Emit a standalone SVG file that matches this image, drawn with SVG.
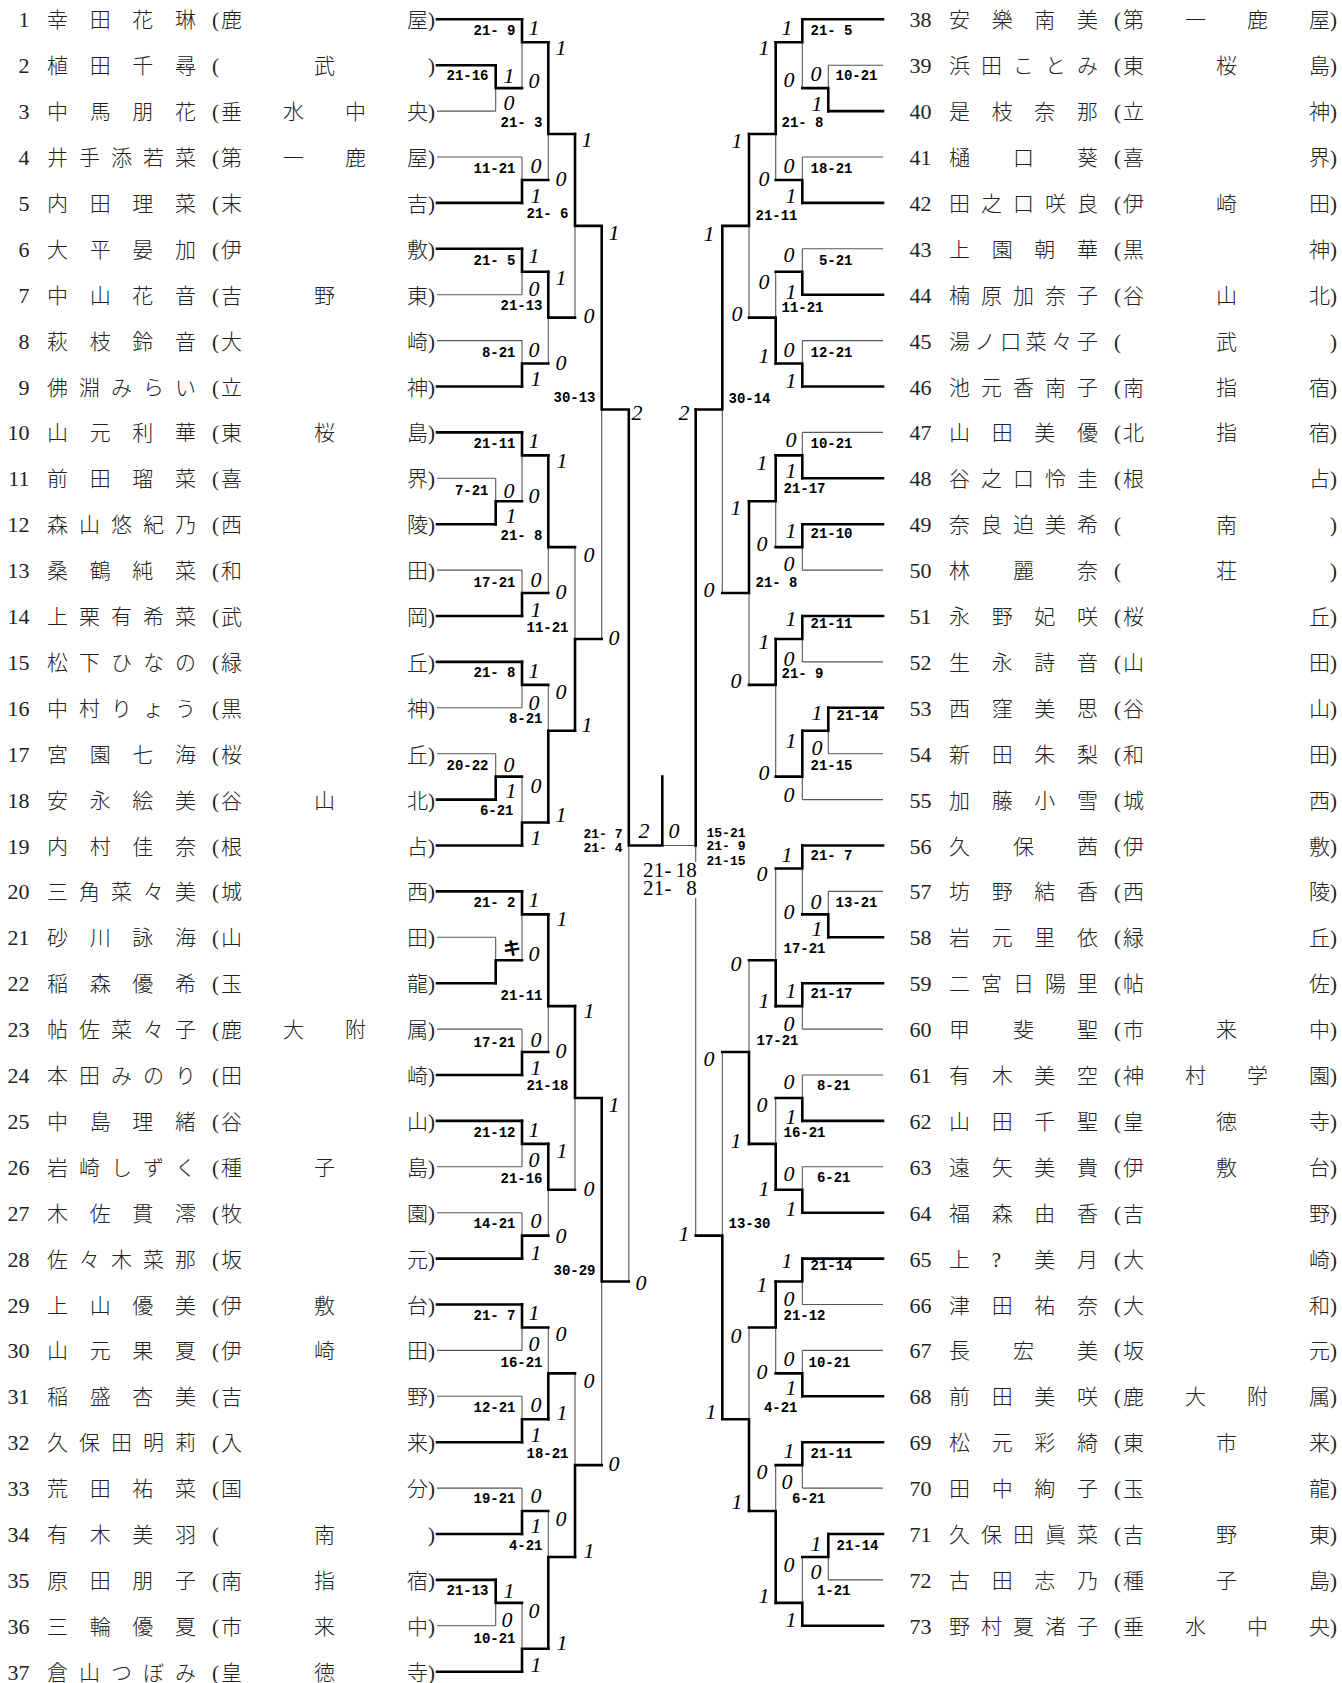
<svg xmlns="http://www.w3.org/2000/svg" width="1342" height="1683" viewBox="0 0 1342 1683">
<style>
.b{fill:none;stroke:#000;stroke-width:2.6;stroke-linecap:square}
.t{fill:none;stroke:#555;stroke-width:1.1}
.num{font-family:"Liberation Serif",serif;font-size:22px;text-anchor:end;fill:#222}
.n{font-family:"Liberation Serif","Noto Sans CJK JP","Noto Sans CJK SC",serif;font-size:21px;font-weight:300;fill:#222}
.r{font-family:"Liberation Serif",serif;font-style:italic;font-size:22px;fill:#000}
.s{font-family:"Liberation Mono",monospace;font-weight:bold;font-size:14px;text-anchor:end;fill:#000}
.sc{font-family:"Liberation Mono",monospace;font-weight:bold;font-size:13px;text-anchor:end;fill:#000}
.f{font-family:"Liberation Serif",serif;font-size:21px;fill:#000}
.k{font-family:"Noto Sans CJK JP",sans-serif;font-size:18px;font-weight:bold;fill:#000}
</style>
<rect width="1342" height="1683" fill="#fff"/>
<g id="connectors">
<path class="t" d="M437 111.1H495.7M437 157H522M437 294.7H522M437 340.6H522M437 478.3H495.7M437 570.1H522M437 707.8H522M437 753.7H495.7M437 937.3H495.7M437 1029.1H522M437 1166.8H522M437 1212.7H522M437 1350.4H522M437 1396.3H522M437 1488.1H522M437 1625.8H495.7"/>
<path class="t" d="M495.7 111.1V88.15M495.7 478.3V501.25M495.7 753.7V776.65M495.7 937.3V960.25M495.7 1625.8V1602.85"/>
<path class="t" d="M522 88.15V42.25M522 157V179.95M522 294.7V271.75M522 340.6V363.55M522 501.25V455.35M522 570.1V593.05M522 707.8V684.85M522 776.65V822.55M522 960.25V914.35M522 1029.1V1052.05M522 1166.8V1143.85M522 1212.7V1235.65M522 1350.4V1327.45M522 1396.3V1419.25M522 1488.1V1511.05M522 1602.85V1648.75"/>
<path class="t" d="M548.3 179.95V134.05M548.3 363.55V317.65M548.3 593.05V547.15M548.3 684.85V730.75M548.3 1052.05V1006.15M548.3 1235.65V1189.75M548.3 1327.45V1373.35M548.3 1511.05V1556.95"/>
<path class="t" d="M575 317.65V225.85M575 547.15V638.95M575 1189.75V1097.95M575 1373.35V1465.15M601.7 638.95V409.45M601.7 1465.15V1281.55M628.8 1281.55V845.5M662.3 845.5H695.7M695.7 1235.65V845.5"/>
<path class="t" d="M722.3 593.05V409.45M722.3 1052.05V1235.65M749 317.65V225.85M749 684.85V593.05M749 960.25V1052.05M749 1327.45V1419.25"/>
<path class="t" d="M775.7 179.95V134.05M775.7 271.75V317.65M775.7 547.15V501.25M775.7 776.65V684.85M775.7 868.45V960.25M775.7 1097.95V1143.85M775.7 1373.35V1327.45M775.7 1465.15V1511.05"/>
<path class="t" d="M802.3 88.15V42.25M802.3 157V179.95M802.3 248.8V271.75M802.3 340.6V363.55M802.3 432.4V455.35M802.3 570.1V547.15M802.3 661.9V638.95M802.3 799.6V776.65M802.3 914.35V868.45M802.3 1029.1V1006.15M802.3 1075V1097.95M802.3 1166.8V1189.75M802.3 1304.5V1281.55M802.3 1350.4V1373.35M802.3 1488.1V1465.15M802.3 1556.95V1602.85"/>
<path class="t" d="M828.3 65.2V88.15M828.3 753.7V730.75M828.3 891.4V914.35M828.3 1579.9V1556.95"/>
<path class="t" d="M828.3 65.2H883M802.3 157H883M802.3 248.8H883M802.3 340.6H883M802.3 432.4H883M802.3 570.1H883M802.3 661.9H883M828.3 753.7H883M802.3 799.6H883M828.3 891.4H883M802.3 1029.1H883M802.3 1075H883M802.3 1166.8H883M802.3 1304.5H883M802.3 1350.4H883M802.3 1488.1H883M828.3 1579.9H883"/>
<path class="b" d="M437 19.3H522M437 65.2H495.7M437 202.9H522M437 248.8H522M437 386.5H522M437 432.4H522M437 524.2H495.7M437 616H522M437 661.9H522M437 799.6H495.7M437 845.5H522M437 891.4H522M437 983.2H495.7M437 1075H522M437 1120.9H522M437 1258.6H522M437 1304.5H522M437 1442.2H522M437 1534H522M437 1579.9H495.7M437 1671.7H522"/>
<path class="b" d="M495.7 65.2V88.15H522M495.7 524.2V501.25H522M495.7 799.6V776.65H522M495.7 983.2V960.25H522M495.7 1579.9V1602.85H522"/>
<path class="b" d="M522 19.3V42.25H548.3M522 202.9V179.95H548.3M522 248.8V271.75H548.3M522 386.5V363.55H548.3M522 432.4V455.35H548.3M522 616V593.05H548.3M522 661.9V684.85H548.3M522 845.5V822.55H548.3M522 891.4V914.35H548.3M522 1075V1052.05H548.3M522 1120.9V1143.85H548.3M522 1258.6V1235.65H548.3M522 1304.5V1327.45H548.3M522 1442.2V1419.25H548.3M522 1534V1511.05H548.3M522 1671.7V1648.75H548.3"/>
<path class="b" d="M548.3 42.25V134.05H575M548.3 271.75V317.65H575M548.3 455.35V547.15H575M548.3 822.55V730.75H575M548.3 914.35V1006.15H575M548.3 1143.85V1189.75H575M548.3 1419.25V1373.35H575M548.3 1648.75V1556.95H575"/>
<path class="b" d="M575 134.05V225.85H601.7M575 730.75V638.95H601.7M575 1006.15V1097.95H601.7M575 1556.95V1465.15H601.7M601.7 225.85V409.45H628.8M601.7 1097.95V1281.55H628.8M628.8 409.45V845.5H662.3M662.3 845.5V776.65M695.7 409.45V845.5"/>
<path class="b" d="M722.3 225.85V409.45H695.7M722.3 1419.25V1235.65H695.7M749 134.05V225.85H722.3M749 501.25V593.05H722.3M749 1143.85V1052.05H722.3M749 1511.05V1419.25H722.3"/>
<path class="b" d="M775.7 42.25V134.05H749M775.7 363.55V317.65H749M775.7 455.35V501.25H749M775.7 638.95V684.85H749M775.7 1006.15V960.25H749M775.7 1189.75V1143.85H749M775.7 1281.55V1327.45H749M775.7 1602.85V1511.05H749"/>
<path class="b" d="M802.3 19.3V42.25H775.7M802.3 202.9V179.95H775.7M802.3 294.7V271.75H775.7M802.3 386.5V363.55H775.7M802.3 478.3V455.35H775.7M802.3 524.2V547.15H775.7M802.3 616V638.95H775.7M802.3 730.75V776.65H775.7M802.3 845.5V868.45H775.7M802.3 983.2V1006.15H775.7M802.3 1120.9V1097.95H775.7M802.3 1212.7V1189.75H775.7M802.3 1258.6V1281.55H775.7M802.3 1396.3V1373.35H775.7M802.3 1442.2V1465.15H775.7M802.3 1625.8V1602.85H775.7"/>
<path class="b" d="M828.3 111.1V88.15H802.3M828.3 707.8V730.75H802.3M828.3 937.3V914.35H802.3M828.3 1534V1556.95H802.3"/>
<path class="b" d="M802.3 19.3H883M828.3 111.1H883M802.3 202.9H883M802.3 294.7H883M802.3 386.5H883M802.3 478.3H883M802.3 524.2H883M802.3 616H883M828.3 707.8H883M802.3 845.5H883M828.3 937.3H883M802.3 983.2H883M802.3 1120.9H883M802.3 1212.7H883M802.3 1258.6H883M802.3 1396.3H883M802.3 1442.2H883M828.3 1534H883M802.3 1625.8H883"/>
</g>
<g id="scores">
<text class="s" x="515.5" y="35">21- 9</text>
<text class="s" x="488.5" y="80">21-16</text>
<text class="s" x="542.5" y="127">21- 3</text>
<text class="s" x="515.5" y="173">11-21</text>
<text class="s" x="568.5" y="218">21- 6</text>
<text class="s" x="515.5" y="265">21- 5</text>
<text class="s" x="542.5" y="310">21-13</text>
<text class="s" x="515.5" y="357">8-21</text>
<text class="s" x="595.5" y="402">30-13</text>
<text class="s" x="515.5" y="448">21-11</text>
<text class="s" x="488.5" y="495">7-21</text>
<text class="s" x="542.5" y="540">21- 8</text>
<text class="s" x="515.5" y="587">17-21</text>
<text class="s" x="568.5" y="632">11-21</text>
<text class="s" x="515.5" y="677">21- 8</text>
<text class="s" x="542.5" y="723">8-21</text>
<text class="s" x="488.5" y="770">20-22</text>
<text class="s" x="513.5" y="815">6-21</text>
<text class="sc" x="622.5" y="838">21- 7</text>
<text class="sc" x="622.5" y="852">21- 4</text>
<text class="s" x="515.5" y="907">21- 2</text>
<text class="s" x="542.5" y="1000">21-11</text>
<text class="s" x="515.5" y="1047">17-21</text>
<text class="s" x="568.5" y="1090">21-18</text>
<text class="s" x="515.5" y="1137">21-12</text>
<text class="s" x="542.5" y="1183">21-16</text>
<text class="s" x="515.5" y="1228">14-21</text>
<text class="s" x="595.5" y="1275">30-29</text>
<text class="s" x="515.5" y="1320">21- 7</text>
<text class="s" x="542.5" y="1367">16-21</text>
<text class="s" x="515.5" y="1412">12-21</text>
<text class="s" x="568.5" y="1458">18-21</text>
<text class="s" x="515.5" y="1503">19-21</text>
<text class="s" x="542.5" y="1550">4-21</text>
<text class="s" x="488.5" y="1595">21-13</text>
<text class="s" x="515.5" y="1643">10-21</text>
<text class="s" x="852.5" y="35">21- 5</text>
<text class="s" x="877.5" y="80">10-21</text>
<text class="s" x="823.5" y="127">21- 8</text>
<text class="s" x="852.5" y="173">18-21</text>
<text class="s" x="797.5" y="220">21-11</text>
<text class="s" x="852.5" y="265">5-21</text>
<text class="s" x="823.5" y="312">11-21</text>
<text class="s" x="852.5" y="357">12-21</text>
<text class="s" x="770.5" y="403">30-14</text>
<text class="s" x="852.5" y="448">10-21</text>
<text class="s" x="825.5" y="493">21-17</text>
<text class="s" x="852.5" y="538">21-10</text>
<text class="s" x="797.5" y="587">21- 8</text>
<text class="s" x="852.5" y="628">21-11</text>
<text class="s" x="823.5" y="678">21- 9</text>
<text class="s" x="878.5" y="720">21-14</text>
<text class="s" x="852.5" y="770">21-15</text>
<text class="sc" x="745.5" y="837">15-21</text>
<text class="sc" x="745.5" y="850">21- 9</text>
<text class="sc" x="745.5" y="865">21-15</text>
<text class="s" x="852.5" y="860">21- 7</text>
<text class="s" x="877.5" y="907">13-21</text>
<text class="s" x="825.5" y="953">17-21</text>
<text class="s" x="852.5" y="998">21-17</text>
<text class="s" x="798.5" y="1045">17-21</text>
<text class="s" x="850.5" y="1090">8-21</text>
<text class="s" x="825.5" y="1137">16-21</text>
<text class="s" x="850.5" y="1182">6-21</text>
<text class="s" x="770.5" y="1228">13-30</text>
<text class="s" x="852.5" y="1270">21-14</text>
<text class="s" x="825.5" y="1320">21-12</text>
<text class="s" x="850.5" y="1367">10-21</text>
<text class="s" x="797.5" y="1412">4-21</text>
<text class="s" x="852.5" y="1458">21-11</text>
<text class="s" x="825.5" y="1503">6-21</text>
<text class="s" x="878.5" y="1550">21-14</text>
<text class="s" x="850.5" y="1595">1-21</text>
<rect x="641" y="862" width="58" height="36" fill="#fff"/>
<text class="f" x="643 653.8 664.6 675.4 686.2" y="877">21-18</text>
<text class="f" x="643 653.8 664.6 675.4 686.2" y="895">21- 8</text>
</g>
<g id="results">
<text class="r" x="503.5" y="83">1</text><text class="r" x="503.5" y="110">0</text>
<text class="r" x="528.5" y="35">1</text><text class="r" x="528.5" y="88">0</text>
<text class="r" x="555.5" y="55">1</text><text class="r" x="555.5" y="186">0</text>
<text class="r" x="530.5" y="173">0</text><text class="r" x="530.5" y="203">1</text>
<text class="r" x="581.5" y="147">1</text><text class="r" x="583.5" y="323">0</text>
<text class="r" x="528.5" y="263">1</text><text class="r" x="528.5" y="296">0</text>
<text class="r" x="555.5" y="285">1</text><text class="r" x="555.5" y="370">0</text>
<text class="r" x="528.5" y="357">0</text><text class="r" x="530.5" y="386">1</text>
<text class="r" x="608.5" y="240">1</text><text class="r" x="608.5" y="645">0</text>
<text class="r" x="631.5" y="420">2</text><text class="r" x="635.5" y="1290">0</text>
<text class="r" x="528.5" y="448">1</text><text class="r" x="528.5" y="503">0</text>
<text class="r" x="556.5" y="468">1</text><text class="r" x="555.5" y="599">0</text>
<text class="r" x="503.5" y="498">0</text><text class="r" x="505.5" y="523">1</text>
<text class="r" x="583.5" y="562">0</text><text class="r" x="581.5" y="732">1</text>
<text class="r" x="530.5" y="587">0</text><text class="r" x="530.5" y="617">1</text>
<text class="r" x="528.5" y="678">1</text><text class="r" x="528.5" y="710">0</text>
<text class="r" x="555.5" y="699">0</text><text class="r" x="555.5" y="822">1</text>
<text class="r" x="503.5" y="772">0</text><text class="r" x="505.5" y="798">1</text>
<text class="r" x="530.5" y="793">0</text><text class="r" x="530.5" y="845">1</text>
<text class="k" x="503" y="955">キ</text>
<text class="r" x="528.5" y="907">1</text><text class="r" x="528.5" y="961">0</text>
<text class="r" x="556.5" y="926">1</text><text class="r" x="555.5" y="1058">0</text>
<text class="r" x="583.5" y="1018">1</text><text class="r" x="583.5" y="1196">0</text>
<text class="r" x="530.5" y="1047">0</text><text class="r" x="530.5" y="1075">1</text>
<text class="r" x="608.5" y="1112">1</text><text class="r" x="608.5" y="1471">0</text>
<text class="r" x="528.5" y="1137">1</text><text class="r" x="528.5" y="1167">0</text>
<text class="r" x="556.5" y="1158">1</text><text class="r" x="555.5" y="1243">0</text>
<text class="r" x="530.5" y="1228">0</text><text class="r" x="530.5" y="1260">1</text>
<text class="r" x="528.5" y="1320">1</text><text class="r" x="528.5" y="1351">0</text>
<text class="r" x="555.5" y="1341">0</text><text class="r" x="556.5" y="1420">1</text>
<text class="r" x="583.5" y="1388">0</text><text class="r" x="583.5" y="1558">1</text>
<text class="r" x="530.5" y="1412">0</text><text class="r" x="530.5" y="1442">1</text>
<text class="r" x="530.5" y="1503">0</text><text class="r" x="530.5" y="1533">1</text>
<text class="r" x="555.5" y="1526">0</text><text class="r" x="556.5" y="1650">1</text>
<text class="r" x="503.5" y="1598">1</text><text class="r" x="501.5" y="1627">0</text>
<text class="r" x="528.5" y="1618">0</text><text class="r" x="530.5" y="1672">1</text>
<text class="r" x="638.5" y="838">2</text><text class="r" x="668.5" y="838">0</text>
<text class="r" x="781.5" y="35">1</text><text class="r" x="783.5" y="87">0</text>
<text class="r" x="758.5" y="55">1</text><text class="r" x="758.5" y="186">0</text>
<text class="r" x="810.5" y="81">0</text><text class="r" x="811.5" y="111">1</text>
<text class="r" x="731.5" y="148">1</text><text class="r" x="731.5" y="321">0</text>
<text class="r" x="783.5" y="173">0</text><text class="r" x="785.5" y="203">1</text>
<text class="r" x="703.5" y="241">1</text><text class="r" x="703.5" y="597">0</text>
<text class="r" x="783.5" y="262">0</text><text class="r" x="785.5" y="299">1</text>
<text class="r" x="758.5" y="289">0</text><text class="r" x="758.5" y="363">1</text>
<text class="r" x="783.5" y="357">0</text><text class="r" x="785.5" y="388">1</text>
<text class="r" x="678.5" y="420">2</text><text class="r" x="678.5" y="1241">1</text>
<text class="r" x="785.5" y="447">0</text><text class="r" x="785.5" y="478">1</text>
<text class="r" x="756.5" y="470">1</text><text class="r" x="756.5" y="551">0</text>
<text class="r" x="730.5" y="515">1</text><text class="r" x="730.5" y="688">0</text>
<text class="r" x="785.5" y="538">1</text><text class="r" x="783.5" y="571">0</text>
<text class="r" x="785.5" y="626">1</text><text class="r" x="783.5" y="666">0</text>
<text class="r" x="758.5" y="649">1</text><text class="r" x="758.5" y="780">0</text>
<text class="r" x="811.5" y="720">1</text><text class="r" x="811.5" y="755">0</text>
<text class="r" x="785.5" y="748">1</text><text class="r" x="783.5" y="802">0</text>
<text class="r" x="781.5" y="862">1</text><text class="r" x="783.5" y="919">0</text>
<text class="r" x="810.5" y="909">0</text><text class="r" x="811.5" y="936">1</text>
<text class="r" x="756.5" y="881">0</text><text class="r" x="758.5" y="1008">1</text>
<text class="r" x="730.5" y="971">0</text><text class="r" x="730.5" y="1148">1</text>
<text class="r" x="785.5" y="998">1</text><text class="r" x="783.5" y="1031">0</text>
<text class="r" x="703.5" y="1066">0</text><text class="r" x="705.5" y="1419">1</text>
<text class="r" x="783.5" y="1089">0</text><text class="r" x="785.5" y="1124">1</text>
<text class="r" x="756.5" y="1112">0</text><text class="r" x="758.5" y="1196">1</text>
<text class="r" x="783.5" y="1181">0</text><text class="r" x="785.5" y="1216">1</text>
<text class="r" x="781.5" y="1268">1</text><text class="r" x="783.5" y="1306">0</text>
<text class="r" x="756.5" y="1292">1</text><text class="r" x="756.5" y="1379">0</text>
<text class="r" x="730.5" y="1343">0</text><text class="r" x="731.5" y="1509">1</text>
<text class="r" x="783.5" y="1366">0</text><text class="r" x="785.5" y="1395">1</text>
<text class="r" x="783.5" y="1458">1</text><text class="r" x="781.5" y="1489">0</text>
<text class="r" x="756.5" y="1479">0</text><text class="r" x="758.5" y="1603">1</text>
<text class="r" x="810.5" y="1551">1</text><text class="r" x="810.5" y="1579">0</text>
<text class="r" x="783.5" y="1572">0</text><text class="r" x="785.5" y="1627">1</text>
</g>
<g id="p1"><text class="num" x="29.5" y="27.3">1</text><text class="n" x="47 89.7 132.3 175 212 221 407 428" y="27.3">幸田花琳(鹿屋)</text></g>
<g id="p2"><text class="num" x="29.5" y="73.2">2</text><text class="n" x="47 89.7 132.3 175 212 314 428" y="73.2">植田千尋(武)</text></g>
<g id="p3"><text class="num" x="29.5" y="119.1">3</text><text class="n" x="47 89.7 132.3 175 212 221 283 345 407 428" y="119.1">中馬朋花(垂水中央)</text></g>
<g id="p4"><text class="num" x="29.5" y="165">4</text><text class="n" x="47 79 111 143 175 212 221 283 345 407 428" y="165">井手添若菜(第一鹿屋)</text></g>
<g id="p5"><text class="num" x="29.5" y="210.9">5</text><text class="n" x="47 89.7 132.3 175 212 221 407 428" y="210.9">内田理菜(末吉)</text></g>
<g id="p6"><text class="num" x="29.5" y="256.8">6</text><text class="n" x="47 89.7 132.3 175 212 221 407 428" y="256.8">大平晏加(伊敷)</text></g>
<g id="p7"><text class="num" x="29.5" y="302.7">7</text><text class="n" x="47 89.7 132.3 175 212 221 314 407 428" y="302.7">中山花音(吉野東)</text></g>
<g id="p8"><text class="num" x="29.5" y="348.6">8</text><text class="n" x="47 89.7 132.3 175 212 221 407 428" y="348.6">萩枝鈴音(大崎)</text></g>
<g id="p9"><text class="num" x="29.5" y="394.5">9</text><text class="n" x="47 79 111 143 175 212 221 407 428" y="394.5">佛淵みらい(立神)</text></g>
<g id="p10"><text class="num" x="29.5" y="440.4">10</text><text class="n" x="47 89.7 132.3 175 212 221 314 407 428" y="440.4">山元利華(東桜島)</text></g>
<g id="p11"><text class="num" x="29.5" y="486.3">11</text><text class="n" x="47 89.7 132.3 175 212 221 407 428" y="486.3">前田瑠菜(喜界)</text></g>
<g id="p12"><text class="num" x="29.5" y="532.2">12</text><text class="n" x="47 79 111 143 175 212 221 407 428" y="532.2">森山悠紀乃(西陵)</text></g>
<g id="p13"><text class="num" x="29.5" y="578.1">13</text><text class="n" x="47 89.7 132.3 175 212 221 407 428" y="578.1">桑鶴純菜(和田)</text></g>
<g id="p14"><text class="num" x="29.5" y="624">14</text><text class="n" x="47 79 111 143 175 212 221 407 428" y="624">上栗有希菜(武岡)</text></g>
<g id="p15"><text class="num" x="29.5" y="669.9">15</text><text class="n" x="47 79 111 143 175 212 221 407 428" y="669.9">松下ひなの(緑丘)</text></g>
<g id="p16"><text class="num" x="29.5" y="715.8">16</text><text class="n" x="47 79 111 143 175 212 221 407 428" y="715.8">中村りょう(黒神)</text></g>
<g id="p17"><text class="num" x="29.5" y="761.7">17</text><text class="n" x="47 89.7 132.3 175 212 221 407 428" y="761.7">宮園七海(桜丘)</text></g>
<g id="p18"><text class="num" x="29.5" y="807.6">18</text><text class="n" x="47 89.7 132.3 175 212 221 314 407 428" y="807.6">安永絵美(谷山北)</text></g>
<g id="p19"><text class="num" x="29.5" y="853.5">19</text><text class="n" x="47 89.7 132.3 175 212 221 407 428" y="853.5">内村佳奈(根占)</text></g>
<g id="p20"><text class="num" x="29.5" y="899.4">20</text><text class="n" x="47 79 111 143 175 212 221 407 428" y="899.4">三角菜々美(城西)</text></g>
<g id="p21"><text class="num" x="29.5" y="945.3">21</text><text class="n" x="47 89.7 132.3 175 212 221 407 428" y="945.3">砂川詠海(山田)</text></g>
<g id="p22"><text class="num" x="29.5" y="991.2">22</text><text class="n" x="47 89.7 132.3 175 212 221 407 428" y="991.2">稲森優希(玉龍)</text></g>
<g id="p23"><text class="num" x="29.5" y="1037.1">23</text><text class="n" x="47 79 111 143 175 212 221 283 345 407 428" y="1037.1">帖佐菜々子(鹿大附属)</text></g>
<g id="p24"><text class="num" x="29.5" y="1083">24</text><text class="n" x="47 79 111 143 175 212 221 407 428" y="1083">本田みのり(田崎)</text></g>
<g id="p25"><text class="num" x="29.5" y="1128.9">25</text><text class="n" x="47 89.7 132.3 175 212 221 407 428" y="1128.9">中島理緒(谷山)</text></g>
<g id="p26"><text class="num" x="29.5" y="1174.8">26</text><text class="n" x="47 79 111 143 175 212 221 314 407 428" y="1174.8">岩崎しずく(種子島)</text></g>
<g id="p27"><text class="num" x="29.5" y="1220.7">27</text><text class="n" x="47 89.7 132.3 175 212 221 407 428" y="1220.7">木佐貫澪(牧園)</text></g>
<g id="p28"><text class="num" x="29.5" y="1266.6">28</text><text class="n" x="47 79 111 143 175 212 221 407 428" y="1266.6">佐々木菜那(坂元)</text></g>
<g id="p29"><text class="num" x="29.5" y="1312.5">29</text><text class="n" x="47 89.7 132.3 175 212 221 314 407 428" y="1312.5">上山優美(伊敷台)</text></g>
<g id="p30"><text class="num" x="29.5" y="1358.4">30</text><text class="n" x="47 89.7 132.3 175 212 221 314 407 428" y="1358.4">山元果夏(伊崎田)</text></g>
<g id="p31"><text class="num" x="29.5" y="1404.3">31</text><text class="n" x="47 89.7 132.3 175 212 221 407 428" y="1404.3">稲盛杏美(吉野)</text></g>
<g id="p32"><text class="num" x="29.5" y="1450.2">32</text><text class="n" x="47 79 111 143 175 212 221 407 428" y="1450.2">久保田明莉(入来)</text></g>
<g id="p33"><text class="num" x="29.5" y="1496.1">33</text><text class="n" x="47 89.7 132.3 175 212 221 407 428" y="1496.1">荒田祐菜(国分)</text></g>
<g id="p34"><text class="num" x="29.5" y="1542">34</text><text class="n" x="47 89.7 132.3 175 212 314 428" y="1542">有木美羽(南)</text></g>
<g id="p35"><text class="num" x="29.5" y="1587.9">35</text><text class="n" x="47 89.7 132.3 175 212 221 314 407 428" y="1587.9">原田朋子(南指宿)</text></g>
<g id="p36"><text class="num" x="29.5" y="1633.8">36</text><text class="n" x="47 89.7 132.3 175 212 221 314 407 428" y="1633.8">三輪優夏(市来中)</text></g>
<g id="p37"><text class="num" x="29.5" y="1679.7">37</text><text class="n" x="47 79 111 143 175 212 221 314 407 428" y="1679.7">倉山つぼみ(皇徳寺)</text></g>
<g id="p38"><text class="num" x="931.5" y="27.3">38</text><text class="n" x="949 991.7 1034.3 1077 1114 1123 1185 1247 1309 1330" y="27.3">安樂南美(第一鹿屋)</text></g>
<g id="p39"><text class="num" x="931.5" y="73.2">39</text><text class="n" x="949 981 1013 1045 1077 1114 1123 1216 1309 1330" y="73.2">浜田ことみ(東桜島)</text></g>
<g id="p40"><text class="num" x="931.5" y="119.1">40</text><text class="n" x="949 991.7 1034.3 1077 1114 1123 1309 1330" y="119.1">是枝奈那(立神)</text></g>
<g id="p41"><text class="num" x="931.5" y="165">41</text><text class="n" x="949 1013 1077 1114 1123 1309 1330" y="165">樋口葵(喜界)</text></g>
<g id="p42"><text class="num" x="931.5" y="210.9">42</text><text class="n" x="949 981 1013 1045 1077 1114 1123 1216 1309 1330" y="210.9">田之口咲良(伊崎田)</text></g>
<g id="p43"><text class="num" x="931.5" y="256.8">43</text><text class="n" x="949 991.7 1034.3 1077 1114 1123 1309 1330" y="256.8">上園朝華(黒神)</text></g>
<g id="p44"><text class="num" x="931.5" y="302.7">44</text><text class="n" x="949 981 1013 1045 1077 1114 1123 1216 1309 1330" y="302.7">楠原加奈子(谷山北)</text></g>
<g id="p45"><text class="num" x="931.5" y="348.6">45</text><text class="n" x="949 974.6 1000.2 1025.8 1051.4 1077 1114 1216 1330" y="348.6">湯ノ口菜々子(武)</text></g>
<g id="p46"><text class="num" x="931.5" y="394.5">46</text><text class="n" x="949 981 1013 1045 1077 1114 1123 1216 1309 1330" y="394.5">池元香南子(南指宿)</text></g>
<g id="p47"><text class="num" x="931.5" y="440.4">47</text><text class="n" x="949 991.7 1034.3 1077 1114 1123 1216 1309 1330" y="440.4">山田美優(北指宿)</text></g>
<g id="p48"><text class="num" x="931.5" y="486.3">48</text><text class="n" x="949 981 1013 1045 1077 1114 1123 1309 1330" y="486.3">谷之口怜圭(根占)</text></g>
<g id="p49"><text class="num" x="931.5" y="532.2">49</text><text class="n" x="949 981 1013 1045 1077 1114 1216 1330" y="532.2">奈良迫美希(南)</text></g>
<g id="p50"><text class="num" x="931.5" y="578.1">50</text><text class="n" x="949 1013 1077 1114 1216 1330" y="578.1">林麗奈(荘)</text></g>
<g id="p51"><text class="num" x="931.5" y="624">51</text><text class="n" x="949 991.7 1034.3 1077 1114 1123 1309 1330" y="624">永野妃咲(桜丘)</text></g>
<g id="p52"><text class="num" x="931.5" y="669.9">52</text><text class="n" x="949 991.7 1034.3 1077 1114 1123 1309 1330" y="669.9">生永詩音(山田)</text></g>
<g id="p53"><text class="num" x="931.5" y="715.8">53</text><text class="n" x="949 991.7 1034.3 1077 1114 1123 1309 1330" y="715.8">西窪美思(谷山)</text></g>
<g id="p54"><text class="num" x="931.5" y="761.7">54</text><text class="n" x="949 991.7 1034.3 1077 1114 1123 1309 1330" y="761.7">新田朱梨(和田)</text></g>
<g id="p55"><text class="num" x="931.5" y="807.6">55</text><text class="n" x="949 991.7 1034.3 1077 1114 1123 1309 1330" y="807.6">加藤小雪(城西)</text></g>
<g id="p56"><text class="num" x="931.5" y="853.5">56</text><text class="n" x="949 1013 1077 1114 1123 1309 1330" y="853.5">久保茜(伊敷)</text></g>
<g id="p57"><text class="num" x="931.5" y="899.4">57</text><text class="n" x="949 991.7 1034.3 1077 1114 1123 1309 1330" y="899.4">坊野結香(西陵)</text></g>
<g id="p58"><text class="num" x="931.5" y="945.3">58</text><text class="n" x="949 991.7 1034.3 1077 1114 1123 1309 1330" y="945.3">岩元里依(緑丘)</text></g>
<g id="p59"><text class="num" x="931.5" y="991.2">59</text><text class="n" x="949 981 1013 1045 1077 1114 1123 1309 1330" y="991.2">二宮日陽里(帖佐)</text></g>
<g id="p60"><text class="num" x="931.5" y="1037.1">60</text><text class="n" x="949 1013 1077 1114 1123 1216 1309 1330" y="1037.1">甲斐聖(市来中)</text></g>
<g id="p61"><text class="num" x="931.5" y="1083">61</text><text class="n" x="949 991.7 1034.3 1077 1114 1123 1185 1247 1309 1330" y="1083">有木美空(神村学園)</text></g>
<g id="p62"><text class="num" x="931.5" y="1128.9">62</text><text class="n" x="949 991.7 1034.3 1077 1114 1123 1216 1309 1330" y="1128.9">山田千聖(皇徳寺)</text></g>
<g id="p63"><text class="num" x="931.5" y="1174.8">63</text><text class="n" x="949 991.7 1034.3 1077 1114 1123 1216 1309 1330" y="1174.8">遠矢美貴(伊敷台)</text></g>
<g id="p64"><text class="num" x="931.5" y="1220.7">64</text><text class="n" x="949 991.7 1034.3 1077 1114 1123 1309 1330" y="1220.7">福森由香(吉野)</text></g>
<g id="p65"><text class="num" x="931.5" y="1266.6">65</text><text class="n" x="949 991.7 1034.3 1077 1114 1123 1309 1330" y="1266.6">上?美月(大崎)</text></g>
<g id="p66"><text class="num" x="931.5" y="1312.5">66</text><text class="n" x="949 991.7 1034.3 1077 1114 1123 1309 1330" y="1312.5">津田祐奈(大和)</text></g>
<g id="p67"><text class="num" x="931.5" y="1358.4">67</text><text class="n" x="949 1013 1077 1114 1123 1309 1330" y="1358.4">長宏美(坂元)</text></g>
<g id="p68"><text class="num" x="931.5" y="1404.3">68</text><text class="n" x="949 991.7 1034.3 1077 1114 1123 1185 1247 1309 1330" y="1404.3">前田美咲(鹿大附属)</text></g>
<g id="p69"><text class="num" x="931.5" y="1450.2">69</text><text class="n" x="949 991.7 1034.3 1077 1114 1123 1216 1309 1330" y="1450.2">松元彩綺(東市来)</text></g>
<g id="p70"><text class="num" x="931.5" y="1496.1">70</text><text class="n" x="949 991.7 1034.3 1077 1114 1123 1309 1330" y="1496.1">田中絢子(玉龍)</text></g>
<g id="p71"><text class="num" x="931.5" y="1542">71</text><text class="n" x="949 981 1013 1045 1077 1114 1123 1216 1309 1330" y="1542">久保田眞菜(吉野東)</text></g>
<g id="p72"><text class="num" x="931.5" y="1587.9">72</text><text class="n" x="949 991.7 1034.3 1077 1114 1123 1216 1309 1330" y="1587.9">古田志乃(種子島)</text></g>
<g id="p73"><text class="num" x="931.5" y="1633.8">73</text><text class="n" x="949 981 1013 1045 1077 1114 1123 1185 1247 1309 1330" y="1633.8">野村夏渚子(垂水中央)</text></g>
</svg>
